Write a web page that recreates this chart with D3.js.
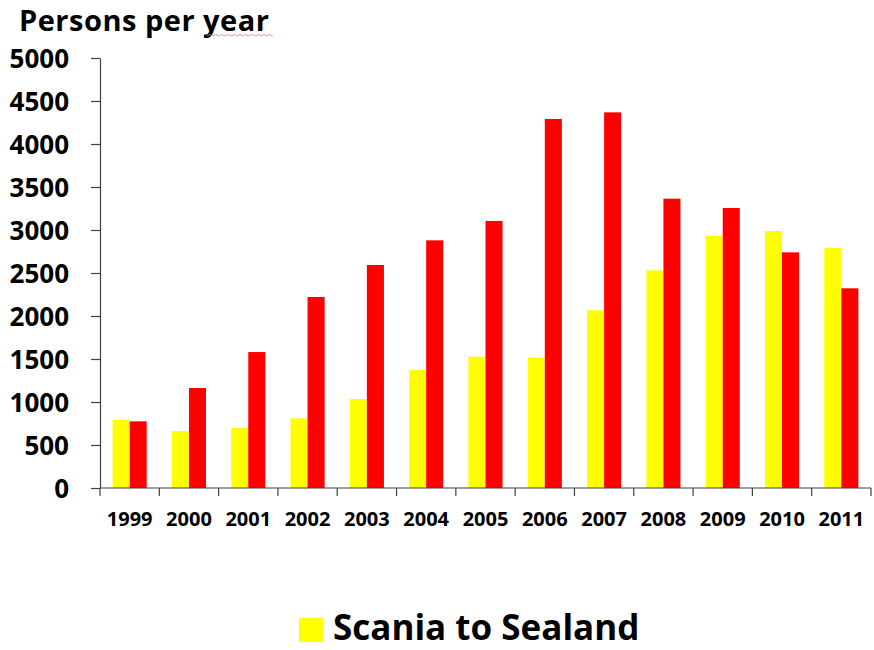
<!DOCTYPE html>
<html>
<head>
<meta charset="utf-8">
<script src="https://cdn.jsdelivr.net/npm/d3@7"></script>
<style>
  body { margin: 0; background: #fff; }
  text { font-family: 'Open Sans', Lato, sans-serif; font-weight: bold; fill: #000; }
  .axis path, .axis line { stroke: #404040; stroke-width: 1.2; }
</style>
</head>
<body>
<svg id="chart"></svg>
<script>
// chart data
const years = ['1999', '2000', '2001', '2002', '2003', '2004', '2005',
               '2006', '2007', '2008', '2009', '2010', '2011'];
const scaniaToSealand = [794, 663, 701, 810, 1035, 1372, 1527, 1515, 2066, 2531, 2934, 2988, 2791];
const sealandToScania = [775, 1163, 1581, 2221, 2593, 2880, 3105, 4291, 4368, 3364, 3256, 2740, 2322];
const yTicks = [0, 500, 1000, 1500, 2000, 2500, 3000, 3500, 4000, 4500, 5000];

const seriesNames = ['Scania to Sealand', 'Sealand to Scania'];
const seriesColors = ['#ffff00', '#ff0000'];

// svg size and plot area
const width = 874;
const height = 650;

const margin = {
  top: 58,
  bottom: 162,
  left: 100,
  right: 3
};

const svg = d3.select('#chart')
              .attr('width', width)
              .attr('height', height);

const plotWidth = width - margin.left - margin.right;
const plotHeight = height - margin.top - margin.bottom;

const x = d3.scaleBand()
            .domain(years)
            .range([0, plotWidth])
            .paddingInner(0.425)
            .paddingOuter(0.2125);

const xSeries = d3.scaleBand()
                  .domain(seriesNames)
                  .range([0, x.bandwidth()]);

const y = d3.scaleLinear()
            .domain([0, 5000])
            .range([plotHeight, 0]);

const plot = svg.append('g')
                .attr('id', 'plot')
                .attr('transform', 'translate(' + margin.left + ',' + margin.top + ')');

// bars, one group per year
const rows = years.map((d, i) => ({
  year: d,
  values: [scaniaToSealand[i], sealandToScania[i]]
}));

const groups = plot.selectAll('.year')
                   .data(rows)
                   .enter()
                   .append('g')
                   .attr('class', 'year')
                   .attr('transform', d => 'translate(' + x(d.year) + ',0)');

groups.selectAll('rect')
      .data(d => d.values.map((v, i) => ({ name: seriesNames[i], value: v, color: seriesColors[i] })))
      .enter()
      .append('rect')
      .attr('x', d => xSeries(d.name))
      .attr('y', d => y(d.value))
      .attr('width', xSeries.bandwidth())
      .attr('height', d => plotHeight - y(d.value))
      .attr('fill', d => d.color);

// y axis
const yAxis = d3.axisLeft(y)
                .tickValues(yTicks)
                .tickFormat(d3.format('d'))
                .tickSize(9)
                .tickSizeOuter(0)
                .tickPadding(22);

const yGroup = plot.append('g')
                   .attr('class', 'axis y')
                   .call(yAxis);

yGroup.selectAll('text')
      .style('font-size', '26px')
      .attr('dy', '0.36em');

// x axis, ticks sit between the categories
const xAxisGroup = plot.append('g')
                       .attr('class', 'axis x')
                       .attr('transform', 'translate(0,' + plotHeight + ')');

xAxisGroup.append('line')
          .attr('x1', 0)
          .attr('x2', plotWidth)
          .attr('y1', 0)
          .attr('y2', 0);

const boundaries = d3.range(years.length + 1).map(i => i * x.step());

xAxisGroup.selectAll('.tick')
          .data(boundaries)
          .enter()
          .append('line')
          .attr('class', 'tick')
          .attr('x1', d => d)
          .attr('x2', d => d)
          .attr('y1', 0)
          .attr('y2', 8);

xAxisGroup.selectAll('.label')
          .data(years)
          .enter()
          .append('text')
          .attr('class', 'label')
          .attr('x', d => x(d) + x.bandwidth() / 2)
          .attr('y', 38)
          .attr('text-anchor', 'middle')
          .style('font-size', '20px')
          .text(d => d);

// title
svg.append('text')
   .attr('x', 19)
   .attr('y', 31)
   .style('font-size', '29px')
   .style('letter-spacing', '0.5px')
   .text('Persons per year');

// spell-check squiggle under "year"
svg.append('path')
   .attr('d', d3.range(207, 276, 3).map((v, i) => (i ? 'L' : 'M') + v + ',' + (i % 2 ? 34.5 : 36)).join(''))
   .attr('fill', 'none')
   .attr('stroke', '#f08080')
   .attr('stroke-width', 0.8);

// legend, only the first entry fits on the page
const legend = svg.append('g')
                  .attr('id', 'legend')
                  .attr('transform', 'translate(299,618)');

legend.append('rect')
      .attr('width', 24)
      .attr('height', 24)
      .attr('fill', seriesColors[0]);

legend.append('text')
      .attr('x', 34)
      .attr('y', 22)
      .style('font-size', '35px')
      .text(seriesNames[0]);
</script>
</body>
</html>
